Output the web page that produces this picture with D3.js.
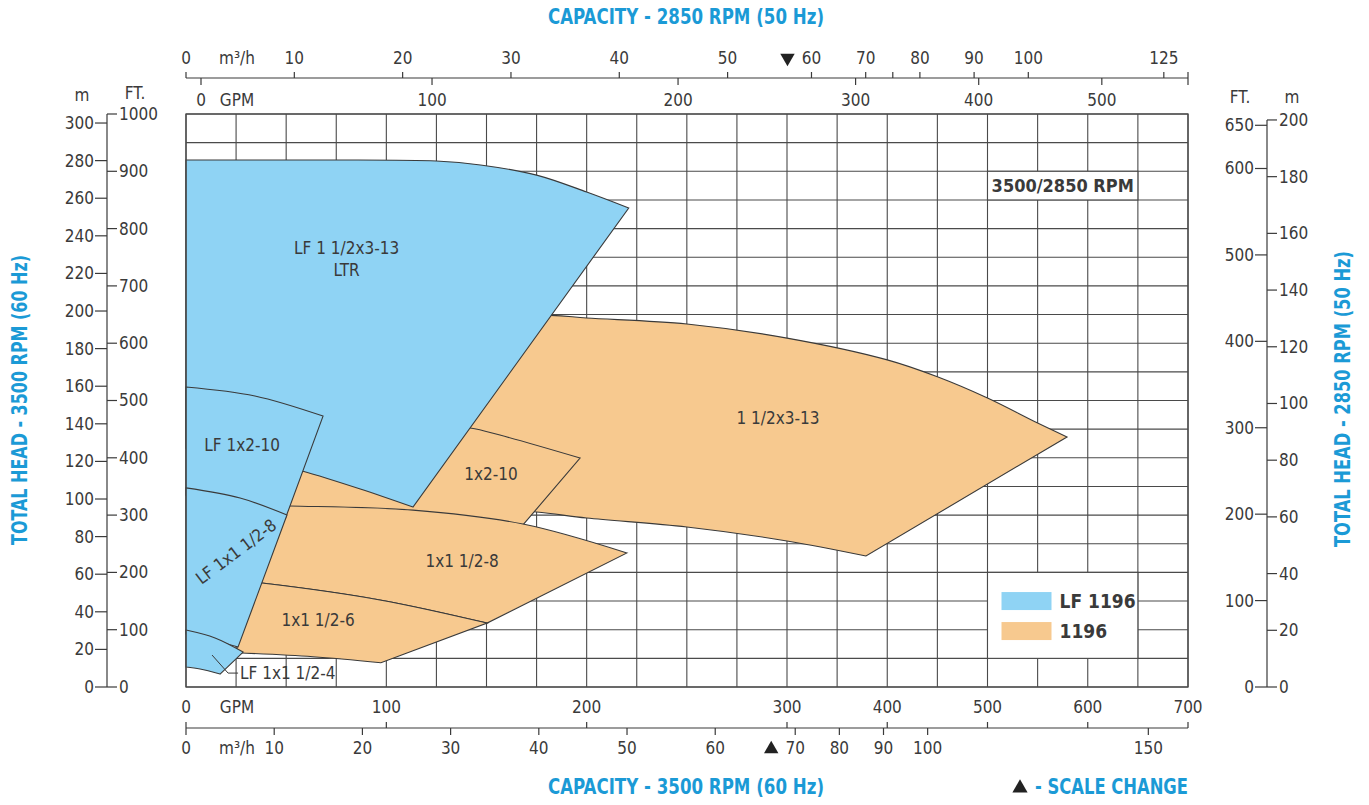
<!DOCTYPE html>
<html>
<head>
<meta charset="utf-8">
<script src="https://cdn.jsdelivr.net/npm/d3@7"></script>
<style>
  body { margin: 0; background: #fff; }
  text { font-family: "Liberation Sans Narrow", "Arial Narrow", "DejaVu Sans Condensed", sans-serif; fill: #3a3a3a; }
</style>
</head>
<body>
<div id="chart"></div>
<script>
// Flow is in GPM at 3500 RPM (60 Hz), head in metres at 3500 RPM.
// The 50 Hz scales are derived from those through the affinity laws.

// tick labels
const gpmTicks60 = [0, 100, 200, 300, 400, 500, 600, 700]
const m3hTicks60 = [0, 10, 20, 30, 40, 50, 60, 70, 80, 90, 100, 150]
const gpmTicks50 = [0, 100, 200, 300, 400, 500]
const m3hTicks50 = [0, 10, 20, 30, 40, 50, 60, 70, 75, 80, 90, 100, 125]
const m3hUnlabeled50 = [75]
const headM60 = [0, 20, 40, 60, 80, 100, 120, 140, 160, 180, 200, 220, 240, 260, 280, 300]
const headFt60 = [0, 100, 200, 300, 400, 500, 600, 700, 800, 900, 1000]
const headM50 = [0, 20, 40, 60, 80, 100, 120, 140, 160, 180, 200]
const headFt50 = [0, 100, 200, 300, 400, 500, 600, 650]

// coverage areas: [gpm, head m], top and bottom edges left to right
// LF 1196 (blue)
const ltrTop = [[0, 280.3], [57, 280.3], [125, 279.8], [147, 277.7], [175, 272.3], [200, 263.3], [221, 254.8]]
const ltrBottom = [[0, 127], [32, 121.8], [58, 114.9], [87, 105.3], [113.3, 95.7]]
const lf210Top = [[0, 159.6], [34.4, 154.8], [68.4, 144.1]]
const lf210Bottom = [[0, 102], [27, 96.8], [49.7, 89.9]]
const lf158Top = [[0, 105.9], [27, 100.5], [50.4, 91.5]]
const lf158Bottom = [[0, 28.2], [13, 25], [26, 21.3]]
const lf154Top = [[0, 30.3], [14.5, 26.1], [28.5, 18.6]]
const lf154Bottom = [[0, 10.6], [7, 9.6], [17, 6.9]]
// 1196 (orange)
const p313Top = [[107, 197.5], [182, 197.7], [200, 196.3], [250, 193.1], [300, 185.6], [400, 174], [450, 165], [500, 153.7], [550, 140.4], [579.3, 133]]
const p313Bottom = [[116.8, 96.8], [141.8, 95.2], [175, 93.1], [200, 89.9], [250, 85.1], [300, 77.7], [378.8, 69.7]]
const p210Top = [[56.9, 142], [106.8, 139.9], [141.8, 137.8], [156.7, 134], [196.7, 121.8]]
const p210Bottom = [[36.9, 93.6], [51.9, 93.6], [106.8, 91.5], [168.2, 86.2]]
const p158Top = [[31.9, 96.8], [51.9, 96.3], [113.3, 94.1], [168.2, 86.7], [220.1, 71.3]]
const p156Top = [[31.9, 55.9], [37.9, 55.3], [96.8, 46.3], [150.3, 34]]
const p158Bottom = p156Top
const p156Bottom = [[25, 18.2], [63.4, 16.1], [97.3, 12.9]]

// area labels
const labelText = ['LF 1 1/2x3-13', 'LTR', 'LF 1x2-10', 'LF 1x1 1/2-8', '1x2-10', '1x1 1/2-8', '1x1 1/2-6', '1 1/2x3-13', 'LF 1x1 1/2-4']
const labelAt = [[80.2, 233.5], [80.2, 221.8], [28, 128.7], [25, 72], [152.2, 113.3], [137.8, 67], [65.9, 35.6], [295.5, 142.9], [27, 7.4]]
const labelAngle = [0, 0, 0, -37, 0, 0, 0, 0, 0]
const leader = [[13, 17], [21, 7.4], [26, 7.4]]

const legendNames = ['LF 1196', '1196']

const blue = '#8fd3f4'
const orange = '#f7c98f'
const titleBlue = '#1b9ad6'

const M3H = 4.40287 // GPM per m3/h
const N = 2850 / 3500 // speed ratio 50 Hz / 60 Hz
const FT = 0.3048

const width = 1369
const height = 805

const svg = d3.select('#chart').append('svg')
  .attr('width', width)
  .attr('height', height)

// the flow axis changes scale at 300 GPM
const x = d3.scaleLinear().domain([0, 300, 700]).range([186, 787, 1188])
const y = d3.scaleLinear().domain([0, 1000 * FT]).range([687, 114])

const [x0, x1] = [x(0), x(700)]
const [yTop, yBottom] = [y(1000 * FT), y(0)]

// grid
const vGrid = d3.range(0, 300, 25).concat(d3.range(300, 701, 50))
const hGrid = d3.range(0, 1001, 50)
const grid = svg.append('g').attr('stroke', '#4a4a4a').attr('stroke-width', 1.1)
grid.selectAll('.v').data(vGrid).join('line')
  .attr('x1', d => x(d)).attr('x2', d => x(d))
  .attr('y1', yTop).attr('y2', yBottom)
grid.selectAll('.h').data(hGrid).join('line')
  .attr('x1', x0).attr('x2', x1)
  .attr('y1', d => y(d * FT)).attr('y2', d => y(d * FT))

// areas
const curve = d3.line().x(d => x(d[0])).y(d => y(d[1])).curve(d3.curveCatmullRom)
const area = (topEdge, bottomEdge) =>
  curve(topEdge) + curve(bottomEdge.slice().reverse()).replace(/^M/, 'L') + 'Z'

const areas = [
  [p313Top, p313Bottom, orange],
  [p210Top, p210Bottom, orange],
  [p158Top, p158Bottom, orange],
  [p156Top, p156Bottom, orange],
  [ltrTop, ltrBottom, blue],
  [lf210Top, lf210Bottom, blue],
  [lf158Top, lf158Bottom, blue],
  [lf154Top, lf154Bottom, blue]
]
svg.append('g').selectAll('path').data(areas).join('path')
  .attr('d', d => area(d[0], d[1]))
  .attr('fill', d => d[2])
  .attr('stroke', '#3a3a3a')
  .attr('stroke-width', 1.1)
  .attr('stroke-linejoin', 'miter')

// leader for the small LF area
svg.append('path')
  .attr('d', d3.line().x(d => x(d[0])).y(d => y(d[1]))(leader))
  .attr('fill', 'none').attr('stroke', '#3a3a3a').attr('stroke-width', 1)

// plot frame
svg.append('rect')
  .attr('x', x0).attr('y', yTop)
  .attr('width', x1 - x0).attr('height', yBottom - yTop)
  .attr('fill', 'none').attr('stroke', '#4a4a4a').attr('stroke-width', 1.3)

svg.append('g').selectAll('text').data(labelText).join('text')
  .attr('transform', (d, i) => `translate(${x(labelAt[i][0])},${y(labelAt[i][1])}) rotate(${labelAngle[i]})`)
  .attr('text-anchor', (d, i) => i === 8 ? 'start' : 'middle')
  .attr('dy', '0.35em')
  .style('font-size', '17px')
  .text(d => d)

// speed box and legend sit in white cells of the grid
const cell = (g0, g1, f0, f1) => svg.append('rect')
  .attr('x', x(g0)).attr('y', y(f1 * FT))
  .attr('width', x(g1) - x(g0)).attr('height', y(f0 * FT) - y(f1 * FT))
  .attr('fill', '#fff').attr('stroke', '#4a4a4a').attr('stroke-width', 1.1)

cell(500, 650, 850, 900)
svg.append('text')
  .attr('x', x(575)).attr('y', y(875 * FT)).attr('dy', '0.35em')
  .attr('text-anchor', 'middle')
  .style('font-size', '18px').style('font-weight', 'bold')
  .text('3500/2850 RPM')

cell(500, 650, 50, 200)
const legend = svg.append('g')
  .selectAll('g').data(legendNames).join('g')
  .attr('transform', (d, i) => `translate(${x(500) + 14},${y(150 * FT) + i * 30})`)
legend.append('rect')
  .attr('y', -9).attr('width', 50).attr('height', 18)
  .attr('fill', (d, i) => i === 0 ? blue : orange)
legend.append('text')
  .attr('x', 58).attr('dy', '0.36em')
  .style('font-size', '19px').style('font-weight', 'bold')
  .text(d => d)

// flow axes
const gpm50 = g => g / N
const m3h50 = q => q * M3H / N
const m3h60 = q => q * M3H

const flowAxis = (yLine, upVals, upPos, downVals, downPos) => {
  const g = svg.append('g')
  g.append('line')
    .attr('x1', x0).attr('x2', x1).attr('y1', yLine).attr('y2', yLine)
    .attr('stroke', '#3a3a3a').attr('stroke-width', 1.2)
  g.selectAll('.up').data(upVals).join('line')
    .attr('x1', d => upPos(d)).attr('x2', d => upPos(d))
    .attr('y1', yLine - 6).attr('y2', yLine)
    .attr('stroke', '#3a3a3a').attr('stroke-width', 1.2)
  g.selectAll('.down').data(downVals).join('line')
    .attr('x1', d => downPos(d)).attr('x2', d => downPos(d))
    .attr('y1', yLine).attr('y2', yLine + 7)
    .attr('stroke', '#3a3a3a').attr('stroke-width', 1.2)
  return g
}

const label = (g, vals, pos, yy, skip = []) =>
  g.selectAll(null).data(vals.filter(v => !skip.includes(v))).join('text')
    .attr('x', d => pos(d)).attr('y', yy).attr('dy', '0.35em')
    .attr('text-anchor', 'middle')
    .style('font-size', '17px')
    .text(d => d)

const unit = (g, t, ux, uy) => g.append('text')
  .attr('x', ux).attr('y', uy).attr('dy', '0.35em')
  .attr('text-anchor', 'middle').style('font-size', '17px').text(t)

// top: 2850 RPM
const topGpmPos = d => d === 0 ? x(0) + 15 : x(gpm50(d))
const topM3hPos = d => x(m3h50(d))
const topAxis = flowAxis(78, m3hTicks50, topM3hPos, gpmTicks50, topGpmPos)
label(topAxis, m3hTicks50, topM3hPos, 58, m3hUnlabeled50)
label(topAxis, gpmTicks50, topGpmPos, 100)
topAxis.append('line').attr('x1', x1).attr('x2', x1).attr('y1', 72).attr('y2', 85)
  .attr('stroke', '#3a3a3a').attr('stroke-width', 1.2)
unit(topAxis, 'm³/h', 237, 58)
unit(topAxis, 'GPM', 237, 100)
topAxis.append('path')
  .attr('d', d3.symbol(d3.symbolTriangle, 90)())
  .attr('transform', `translate(${topM3hPos(60) - 24},58) rotate(180)`)
  .attr('fill', '#222')

// bottom: 3500 RPM
const botGpmPos = d => x(d)
const botM3hPos = d => x(m3h60(d))
const bottomAxis = flowAxis(728, gpmTicks60, botGpmPos, m3hTicks60, botM3hPos)
label(bottomAxis, gpmTicks60, botGpmPos, 707)
label(bottomAxis, m3hTicks60, botM3hPos, 748)
unit(bottomAxis, 'GPM', 237, 707)
unit(bottomAxis, 'm³/h', 237, 748)
bottomAxis.append('path')
  .attr('d', d3.symbol(d3.symbolTriangle, 90)())
  .attr('transform', `translate(${botM3hPos(70) - 24},749)`)
  .attr('fill', '#222')

// head axes
const headAxis = (xLine, yEnd, leftVals, leftPos, rightVals, rightPos) => {
  const g = svg.append('g')
  g.append('line')
    .attr('x1', xLine).attr('x2', xLine).attr('y1', yEnd).attr('y2', yBottom)
    .attr('stroke', '#3a3a3a').attr('stroke-width', 1.2)
  g.selectAll('.l').data(leftVals).join('line')
    .attr('x1', xLine - 12).attr('x2', xLine)
    .attr('y1', d => leftPos(d)).attr('y2', d => leftPos(d))
    .attr('stroke', '#3a3a3a').attr('stroke-width', 1.2)
  g.selectAll('.r').data(rightVals).join('line')
    .attr('x1', xLine).attr('x2', xLine + 10)
    .attr('y1', d => rightPos(d)).attr('y2', d => rightPos(d))
    .attr('stroke', '#3a3a3a').attr('stroke-width', 1.2)
  g.selectAll('.lt').data(leftVals).join('text')
    .attr('x', xLine - 13).attr('y', d => leftPos(d)).attr('dy', '0.35em')
    .attr('text-anchor', 'end').style('font-size', '17px')
    .text(d => d)
  g.selectAll('.rt').data(rightVals).join('text')
    .attr('x', xLine + 12).attr('y', d => rightPos(d)).attr('dy', '0.35em')
    .attr('text-anchor', 'start').style('font-size', '17px')
    .text(d => d)
  return g
}

const leftAxis = headAxis(107, yTop, headM60, d => y(d), headFt60, d => y(d * FT))
unit(leftAxis, 'm', 82, 95)
unit(leftAxis, 'FT.', 135, 93)

const head50 = m => m / (N * N)
const rightAxis = headAxis(1267, y(head50(200)), headFt50, d => y(head50(d * FT)), headM50, d => y(head50(d)))
unit(rightAxis, 'FT.', 1240, 97)
unit(rightAxis, 'm', 1292, 97)

// titles, squeezed to the condensed face of the original
const title = (t, tx, ty, rot, len, anchor = 'middle') => svg.append('text')
  .attr('transform', `translate(${tx},${ty}) rotate(${rot})`)
  .attr('text-anchor', anchor).attr('dy', '0.35em')
  .attr('textLength', len).attr('lengthAdjust', 'spacingAndGlyphs')
  .style('font-size', '21px').style('font-weight', 'bold')
  .style('fill', titleBlue)
  .text(t)

title('CAPACITY - 2850 RPM (50 Hz)', 686, 17, 0, 276)
title('CAPACITY - 3500 RPM (60 Hz)', 686, 787, 0, 276)
title('TOTAL HEAD - 3500 RPM (60 Hz)', 20, 400, -90, 290)
title('TOTAL HEAD - 2850 RPM (50 Hz)', 1343, 399, -90, 296)
title('- SCALE CHANGE', 1188, 787, 0, 153, 'end')
svg.append('path')
  .attr('d', d3.symbol(d3.symbolTriangle, 100)())
  .attr('transform', 'translate(1020,788)')
  .attr('fill', '#222')
</script>
</body>
</html>
